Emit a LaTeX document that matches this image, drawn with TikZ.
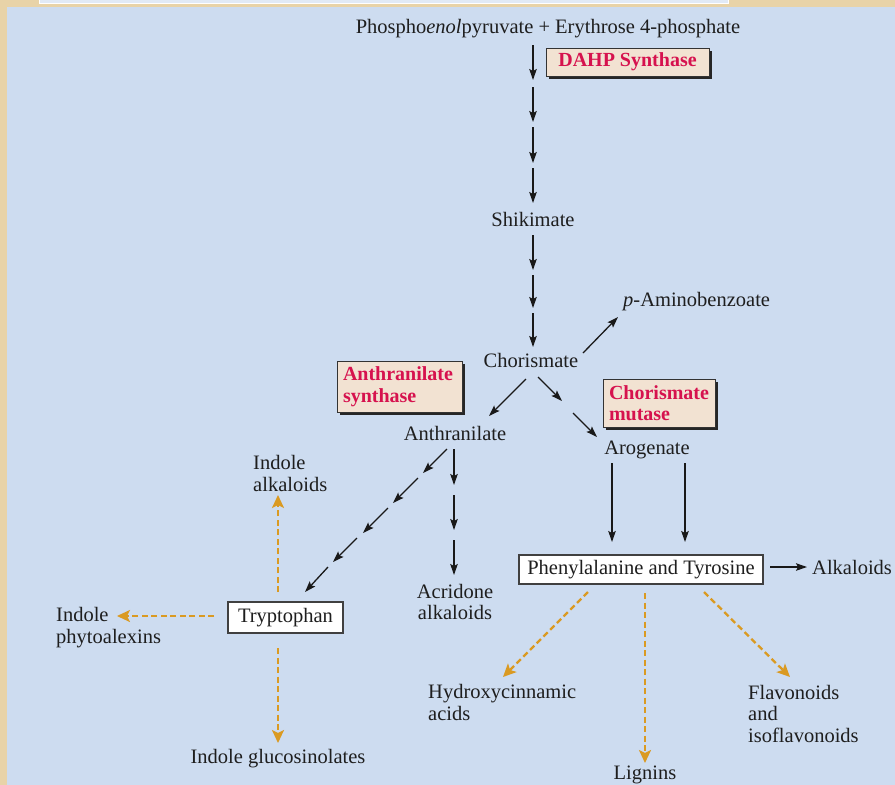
\documentclass[tikz,border=0pt]{standalone}
\usepackage{fontspec}
\setmainfont{Liberation Serif}
\usetikzlibrary{arrows.meta,shadows}
\definecolor{bgblue}{RGB}{205,220,240}
\definecolor{beige}{RGB}{232,211,168}
\definecolor{boxfill}{RGB}{242,226,210}
\definecolor{enzred}{RGB}{214,18,78}
\definecolor{orng}{RGB}{218,154,34}
\definecolor{txt}{RGB}{30,30,30}
\tikzset{
  lbl/.style={inner sep=0pt, text=txt, font=\fontsize{20.5}{21.5}\selectfont},
  enz/.style={draw=black!80, line width=0.8pt, fill=boxfill, text=enzred,
    font=\bfseries\fontsize{20}{21.5}\selectfont, inner sep=0pt, align=left,
    drop shadow={shadow xshift=2.5pt, shadow yshift=-2.5pt, fill=black!85, opacity=1}},
  prod/.style={draw=black!75, line width=1.3pt, fill=white, text=txt, inner sep=0pt,
    font=\fontsize{20.5}{21.5}\selectfont},
  arr/.style={draw=black!90, line width=1.3pt, -{Stealth[length=11pt,width=7.5pt,inset=2pt]}},
  oarr/.style={draw=orng, line width=2.3pt, dash pattern=on 6pt off 3.5pt,
    -{Stealth[length=13pt,width=12pt,inset=3pt]}}
}
\begin{document}
\begin{tikzpicture}[x=1pt,y=-1pt]
\useasboundingbox (0,0) rectangle (895,785);
% background
\fill[beige] (0,0) rectangle (895,785);
\fill[bgblue] (7,7) rectangle (895,785);
\draw[white, line width=1pt, fill=bgblue!60!white] (39.5,-1) rectangle (728,3.5);

% nodes
\node[lbl] (title) at (548,29) {Phospho\textit{enol}pyruvate + Erythrose 4-phosphate};
\node[enz, minimum width=163pt, minimum height=28pt, align=center] (dahp) at (627.5,62) {DAHP Synthase};
\node[lbl] (shik) at (533,219) {Shikimate};
\node[lbl] (chor) at (531,360) {Chorismate};
\node[lbl, anchor=west] (pamb) at (623,302) {\textit{p}-Aminobenzoate};
\node[enz, minimum width=125pt, minimum height=51pt, text width=113pt] (asyn) at (399.5,386.5) {Anthranilate\\synthase};
\node[enz, minimum width=112pt, minimum height=48pt, text width=100pt] (cmut) at (659,403) {Chorismate\\mutase};
\node[lbl] (anth) at (455,433) {Anthranilate};
\node[lbl] (arog) at (647,450) {Arogenate};
\node[prod, minimum width=115pt, minimum height=31pt] (trp) at (285.5,617.5) {Tryptophan};
\node[prod, minimum width=244pt, minimum height=29pt] (phe) at (641,569.5) {Phenylalanine and Tyrosine};
\node[lbl, anchor=west] (alk) at (812,567) {Alkaloids};
\node[lbl, align=center] (acr) at (455,602) {Acridone\\alkaloids};
\node[lbl, anchor=west, align=left] (indalk) at (253,473.5) {Indole\\alkaloids};
\node[lbl, anchor=west, align=left] (indphy) at (56,627.5) {Indole\\phytoalexins};
\node[lbl] (indglu) at (278,759) {Indole glucosinolates};
\node[lbl, anchor=west, align=left] (hyd) at (428,702.5) {Hydroxycinnamic\\acids};
\node[lbl] (lig) at (645,775) {Lignins};
\node[lbl, anchor=west, align=left] (flav) at (748,713.5) {Flavonoids\\and\\isoflavonoids};

% coordinates for segmented connectors
\foreach \n/\x/\y in {
  m1a/533/45, m1b/533/80, m2a/533/87, m2b/533/122, m3a/533/127, m3b/533/163,
  m4a/533/168, m4b/533/203, m5a/533/235, m5b/533/270, m6a/533/275, m6b/533/308,
  m7a/533/313, m7b/533/347,
  pa/583/353, pb/618/317,
  ca/526/379, cb/489/416,
  r1a/538/377, r1b/562/401, r2a/573/413, r2b/597/437,
  t1a/447/449, t1b/423/473, t2a/418/478, t2b/393/503, t3a/388/508, t3b/363/533,
  t4a/357/538, t4b/333/562, t5a/328/567, t5b/305/592,
  a1a/454/449, a1b/454/485, a2a/454/495, a2b/454/530, a3a/454/540, a3b/454/575,
  g1a/612/463, g1b/612/542, g2a/685/463, g2b/685/542,
  ka/770/567, kb/807/567,
  ua/278/592, ub/278/495, la/214/616, lb/117/616, da/278/648, db/278/743,
  ha/588/592, hb/503/677, ga/645/593, gb/645/763, fa/704/592, fb/790/677}
  \coordinate (\n) at (\x,\y);

% black connectors
\foreach \s in {m1,m2,m3,m4,m5,m6,m7,r1,r2,t1,t2,t3,t4,t5,a1,a2,a3,g1,g2}
  \draw[arr] (\s a) -- (\s b);
\draw[arr] (pa) -- (pb);
\draw[arr] (ca) -- (cb);
\draw[arr] (ka) -- (kb);

% orange dashed connectors
\draw[oarr] (ua) -- (ub);
\draw[oarr] (la) -- (lb);
\draw[oarr] (da) -- (db);
\draw[oarr] (ha) -- (hb);
\draw[oarr] (ga) -- (gb);
\draw[oarr] (fa) -- (fb);
\end{tikzpicture}
\end{document}
